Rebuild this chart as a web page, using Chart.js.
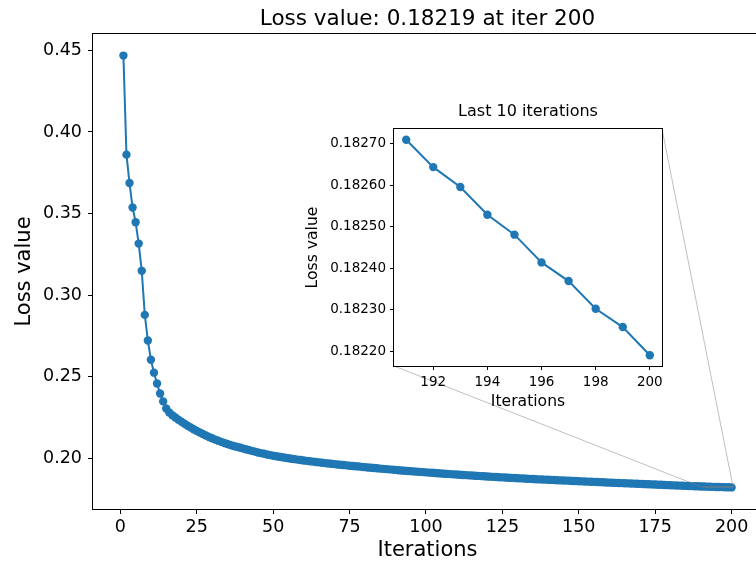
<!DOCTYPE html>
<html>
<head>
<meta charset="utf-8">
<script src="https://cdn.jsdelivr.net/npm/chart.js@4.4.1/dist/chart.umd.min.js"></script>
<style>
  html, body { margin: 0; padding: 0; background: #fff; overflow: hidden; }
  #wrap { position: relative; width: 756px; height: 563px; overflow: hidden; }
  #lossChart { position: absolute; left: 0; top: 0; }
  #insetChart { position: absolute; left: 300px; top: 95px; }
</style>
</head>
<body>
<div id="wrap">
  <canvas id="lossChart" width="770" height="563"></canvas>
  <canvas id="insetChart" width="370" height="320"></canvas>
</div>
<script>
// loss per iteration (iterations 1..200)
const lossValues = [
  0.4468, 0.3861, 0.3687, 0.3537, 0.3447, 0.3316, 0.3149, 0.2879, 0.2722, 0.2604,
  0.2525, 0.2459, 0.2397, 0.2349, 0.2305, 0.2281, 0.2264, 0.2250, 0.2237, 0.2224,
  0.2212, 0.2200, 0.2189, 0.2178, 0.2168, 0.2158, 0.2149, 0.2140, 0.2131, 0.2123,
  0.2115, 0.2108, 0.2101, 0.2094, 0.2088, 0.2082, 0.2076, 0.2071, 0.2066, 0.2061,
  0.2056, 0.2051, 0.2046, 0.2041, 0.2036, 0.2032, 0.2028, 0.2024, 0.2020, 0.2016,
  0.20127, 0.20095, 0.20064, 0.20034, 0.20005, 0.19977, 0.19950, 0.19923, 0.19897, 0.19872,
  0.19847, 0.19823, 0.19799, 0.19776, 0.19753, 0.19731, 0.19709, 0.19688, 0.19667, 0.19647,
  0.19627, 0.19607, 0.19588, 0.19569, 0.19550, 0.19532, 0.19514, 0.19496, 0.19478, 0.19460,
  0.19442, 0.19424, 0.19407, 0.19390, 0.19373, 0.19356, 0.19339, 0.19323, 0.19307, 0.19291,
  0.19275, 0.19259, 0.19244, 0.19229, 0.19214, 0.19199, 0.19184, 0.19169, 0.19155, 0.19141,
  0.19127, 0.19113, 0.19099, 0.19085, 0.19072, 0.19059, 0.19046, 0.19033, 0.19020, 0.19007,
  0.18995, 0.18983, 0.18971, 0.18959, 0.18947, 0.18935, 0.18923, 0.18911, 0.18899, 0.18888,
  0.18877, 0.18866, 0.18855, 0.18844, 0.18833, 0.18822, 0.18811, 0.18801, 0.18791, 0.18781,
  0.18771, 0.18761, 0.18751, 0.18741, 0.18732, 0.18723, 0.18714, 0.18705, 0.18696, 0.18687,
  0.18678, 0.18669, 0.18660, 0.18651, 0.18642, 0.18633, 0.18625, 0.18616, 0.18608, 0.18599,
  0.18591, 0.18582, 0.18574, 0.18565, 0.18557, 0.18548, 0.18540, 0.18531, 0.18523, 0.18514,
  0.18506, 0.18498, 0.18490, 0.18482, 0.18474, 0.18466, 0.18458, 0.18450, 0.18442, 0.18434,
  0.18426, 0.18418, 0.18410, 0.18402, 0.18394, 0.18386, 0.18378, 0.18370, 0.18362, 0.18354,
  0.18346, 0.18339, 0.18331, 0.18323, 0.18316, 0.18308, 0.18300, 0.18293, 0.18286, 0.18278,
  0.18271, 0.182644, 0.182596, 0.182529, 0.182481, 0.182414, 0.182369, 0.182302, 0.182258, 0.18219
];
const iterations = lossValues.map((_, i) => i + 1);

const mainXTicks = [0, 25, 50, 75, 100, 125, 150, 175, 200];
const mainYTicks = [0.20, 0.25, 0.30, 0.35, 0.40, 0.45];
const insetXTicks = [192, 194, 196, 198, 200];
const insetYTicks = [0.1822, 0.1823, 0.1824, 0.1825, 0.1826, 0.1827];

const ZOOM_COUNT = 10;
const lastIterations = iterations.slice(-ZOOM_COUNT);
const lastLoss = lossValues.slice(-ZOOM_COUNT);

const BLUE = '#1f77b4';
Chart.defaults.font.family = '"DejaVu Sans", sans-serif';
Chart.defaults.color = '#000';

// axis limits with 5% padding like pyplot autoscale
function paddedRange(values) {
  const lo = Math.min(...values), hi = Math.max(...values);
  const m = (hi - lo) * 0.05;
  return [lo - m, hi + m];
}

const [mainXMin, mainXMax] = paddedRange(iterations);
const [mainYMin, mainYMax] = paddedRange(lossValues);
const [insetXMin, insetXMax] = paddedRange(lastIterations);
const [insetYMin, insetYMax] = paddedRange(lastLoss);

const INSET_LEFT = 300, INSET_TOP = 95;

// draws the full axes frame around the plot area
const frameBox = {
  id: 'frameBox',
  beforeDatasetsDraw(chart) {
    const { ctx, chartArea: a } = chart;
    if (chart.canvas.id === 'insetChart') {
      ctx.save();
      ctx.fillStyle = '#fff';
      ctx.fillRect(a.left, a.top, a.right - a.left, a.bottom - a.top);
      ctx.restore();
    }
  },
  afterDraw(chart) {
    const { ctx, chartArea: a } = chart;
    ctx.save();
    ctx.strokeStyle = '#000';
    ctx.lineWidth = 1;
    ctx.strokeRect(Math.round(a.left) - 0.5, Math.round(a.top) - 0.5,
      Math.round(a.right - a.left) + 1, Math.round(a.bottom - a.top) + 1);
    ctx.restore();
  }
};

// zoom indicator rectangle + connector lines to the inset
const insetLinks = {
  id: 'insetLinks',
  afterDatasetsDraw(chart) {
    const inset = window.insetChart;
    if (!inset) return;
    const xs = chart.scales.x, ys = chart.scales.y;
    const x0 = xs.getPixelForValue(insetXMin), x1 = xs.getPixelForValue(insetXMax);
    const y0 = ys.getPixelForValue(insetYMin), y1 = ys.getPixelForValue(insetYMax);
    const ia = inset.chartArea;
    const ctx = chart.ctx;
    ctx.save();
    ctx.strokeStyle = 'rgba(128,128,128,0.5)';
    ctx.lineWidth = 1;
    ctx.strokeRect(x0, y1, x1 - x0, y0 - y1);
    ctx.beginPath();
    ctx.moveTo(INSET_LEFT + ia.left, INSET_TOP + ia.bottom);
    ctx.lineTo(x0, y0);
    ctx.moveTo(INSET_LEFT + ia.right, INSET_TOP + ia.top);
    ctx.lineTo(x1, y1);
    ctx.stroke();
    ctx.restore();
  }
};

function fixedTicks(list) {
  return function (scale) {
    scale.ticks = list.map(v => ({ value: v }));
  };
}

function tickGrid(len) {
  return { drawOnChartArea: false, drawTicks: true, tickLength: len, color: '#000', lineWidth: 1 };
}

// inset: last 10 iterations
window.insetChart = new Chart(document.getElementById('insetChart'), {
  type: 'line',
  data: {
    datasets: [{
      data: lastIterations.map((x, i) => ({ x: x, y: lastLoss[i] })),
      borderColor: BLUE,
      backgroundColor: BLUE,
      borderWidth: 2,
      pointRadius: 4.2,
      pointBorderWidth: 0,
      pointBackgroundColor: BLUE,
      tension: 0
    }]
  },
  options: {
    responsive: false,
    animation: false,
    layout: { padding: { left: 0, right: 8, top: 0, bottom: 0 } },
    plugins: {
      legend: { display: false },
      tooltip: { enabled: false },
      title: {
        display: true,
        text: 'Last 10 iterations',
        fullSize: false,
        color: '#000',
        font: { size: 16, weight: 'normal' },
        padding: { top: 7.4, bottom: 7.4 }
      }
    },
    scales: {
      x: {
        type: 'linear',
        min: insetXMin,
        max: insetXMax,
        afterBuildTicks: fixedTicks(insetXTicks),
        afterFit(scale) { scale.height = 49; },
        border: { display: false },
        grid: tickGrid(4),
        ticks: { font: { size: 13.5 }, padding: 4, maxRotation: 0, autoSkip: false,
          callback: v => String(v) },
        title: { display: true, text: 'Iterations', font: { size: 15.6 }, padding: { top: 0, bottom: 4 } }
      },
      y: {
        type: 'linear',
        min: insetYMin,
        max: insetYMax,
        afterBuildTicks: fixedTicks(insetYTicks),
        afterFit(scale) { scale.width = 94; },
        border: { display: false },
        grid: tickGrid(4),
        ticks: { font: { size: 13.5 }, padding: 4, autoSkip: false,
          callback: v => v.toFixed(5) },
        title: { display: true, text: 'Loss value', font: { size: 15.6 }, padding: { top: 4, bottom: 0 } }
      }
    }
  },
  plugins: [frameBox]
});

// main loss curve
const lastIter = iterations[iterations.length - 1];
const lastValue = lossValues[lossValues.length - 1];

window.lossChart = new Chart(document.getElementById('lossChart'), {
  type: 'line',
  data: {
    datasets: [{
      data: iterations.map((x, i) => ({ x: x, y: lossValues[i] })),
      borderColor: BLUE,
      backgroundColor: BLUE,
      borderWidth: 2,
      pointRadius: 4.2,
      pointBorderWidth: 0,
      pointBackgroundColor: BLUE,
      tension: 0
    }]
  },
  options: {
    responsive: false,
    animation: false,
    layout: { padding: { left: 0, right: 8, top: 0, bottom: 0 } },
    plugins: {
      legend: { display: false },
      tooltip: { enabled: false },
      title: {
        display: true,
        text: 'Loss value: ' + lastValue.toFixed(5) + ' at iter ' + lastIter,
        fullSize: false,
        color: '#000',
        font: { size: 21.5, weight: 'normal' },
        padding: { top: 7, bottom: 1.2 }
      }
    },
    scales: {
      x: {
        type: 'linear',
        min: mainXMin,
        max: mainXMax,
        afterBuildTicks: fixedTicks(mainXTicks),
        afterFit(scale) { scale.height = 54; },
        border: { display: false },
        grid: tickGrid(5),
        ticks: { font: { size: 17.5 }, padding: 3, maxRotation: 0, autoSkip: false,
          callback: v => String(v) },
        title: { display: true, text: 'Iterations', font: { size: 21 }, padding: { top: 0, bottom: 0 } }
      },
      y: {
        type: 'linear',
        min: mainYMin,
        max: mainYMax,
        afterBuildTicks: fixedTicks(mainYTicks),
        afterFit(scale) { scale.width = 93; },
        border: { display: false },
        grid: tickGrid(5),
        ticks: { font: { size: 17.5 }, padding: 6, autoSkip: false,
          callback: v => v.toFixed(2) },
        title: { display: true, text: 'Loss value', font: { size: 21 }, padding: { top: 12, bottom: 0 } }
      }
    }
  },
  plugins: [frameBox, insetLinks]
});
</script>
</body>
</html>
